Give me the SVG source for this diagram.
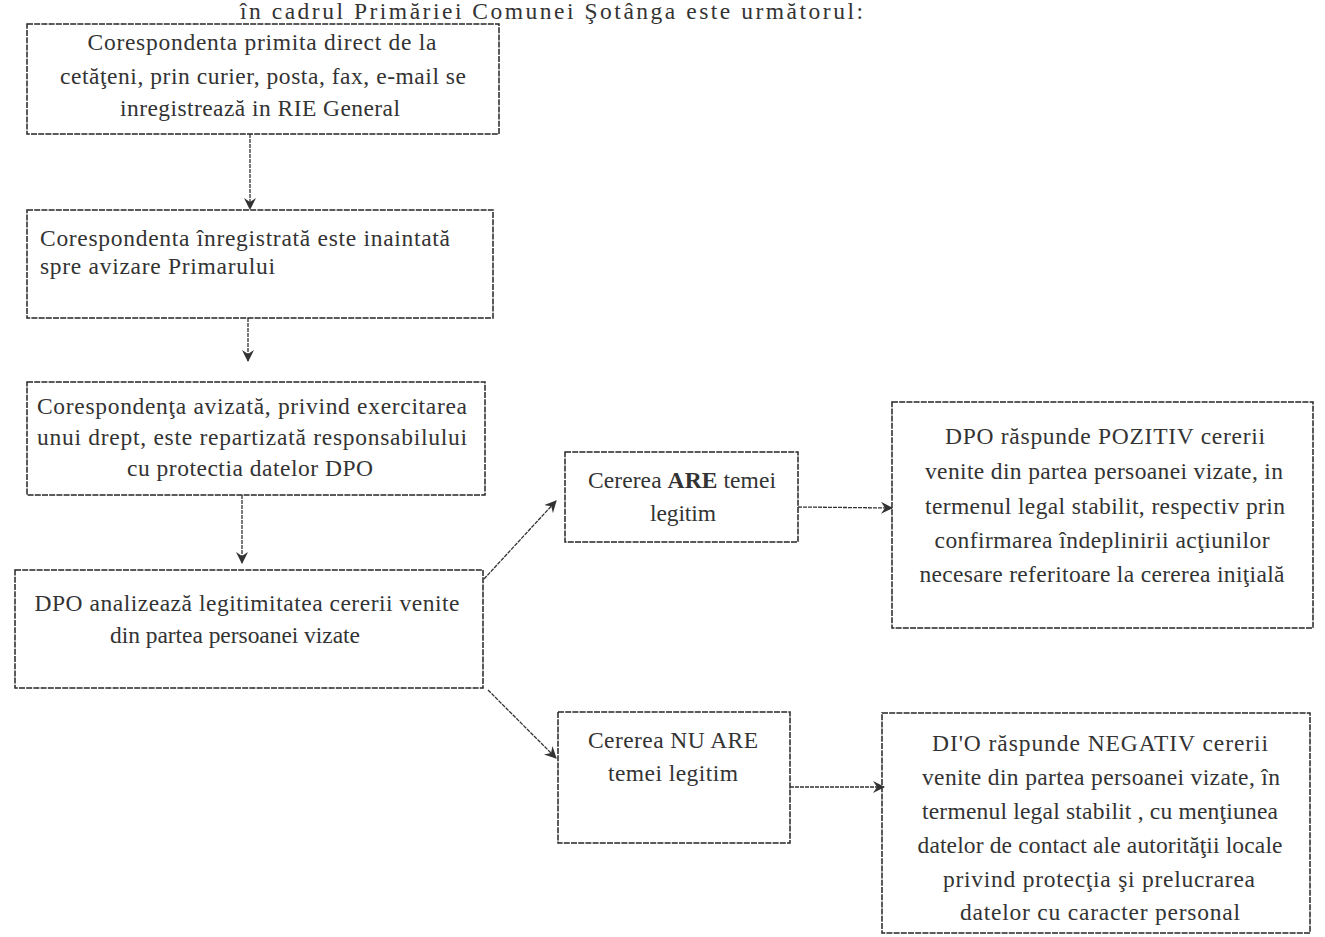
<svg xmlns="http://www.w3.org/2000/svg" width="1325" height="937" viewBox="0 0 1325 937">
<defs>
<style>
.box{fill:none;stroke:#262626;stroke-width:1.5;stroke-dasharray:6 1.2}
.t{font-family:"Liberation Serif","DejaVu Serif",serif;font-size:23.5px;fill:#333;text-anchor:middle}
.l{text-anchor:start}
.c{stroke:#333;stroke-width:1.3;stroke-dasharray:4 1;fill:none}
</style>
<marker id="ah" markerWidth="14" markerHeight="14" refX="11" refY="6" orient="auto" markerUnits="userSpaceOnUse">
<path d="M0,0 L12,6 L0,12 L4,6 Z" fill="#333"/>
</marker>
</defs>
<rect width="1325" height="937" fill="#ffffff"/>
<text class="t l" x="240" y="19" font-size="22" textLength="623">în cadrul Primăriei Comunei Şotânga este următorul:</text>
<g id="n1">
<rect class="box" x="27" y="24" width="472" height="110"/>
<text class="t" x="262" y="50" textLength="349">Corespondenta primita direct de la</text>
<text class="t" x="263" y="84" textLength="406">cetăţeni, prin curier, posta, fax, e-mail  se</text>
<text class="t" x="260" y="116" textLength="280">inregistrează in RIE General</text>
</g>
<g id="n2">
<rect class="box" x="27" y="210" width="466" height="108"/>
<text class="t l" x="40" y="246" textLength="410">Corespondenta înregistrată este inaintată</text>
<text class="t l" x="40" y="274" textLength="235">spre avizare Primarului</text>
</g>
<g id="n3">
<rect class="box" x="27" y="382" width="458" height="113"/>
<text class="t" x="252" y="414" textLength="430">Corespondenţa avizată, privind exercitarea</text>
<text class="t" x="252" y="445" textLength="430">unui drept, este repartizată responsabilului</text>
<text class="t" x="250" y="476" textLength="246">cu protectia datelor DPO</text>
</g>
<g id="n4">
<rect class="box" x="15" y="570" width="468" height="118"/>
<text class="t" x="247" y="611" textLength="425">DPO analizează legitimitatea cererii venite</text>
<text class="t" x="235" y="643" textLength="250">din partea persoanei vizate</text>
</g>
<g id="n5">
<rect class="box" x="565" y="452" width="233" height="90"/>
<text class="t" x="682" y="488" textLength="188"><tspan>Cererea </tspan><tspan font-weight="bold">ARE</tspan><tspan> temei</tspan></text>
<text class="t" x="683" y="521" textLength="66">legitim</text>
</g>
<g id="n6">
<rect class="box" x="558" y="712" width="232" height="131"/>
<text class="t" x="673" y="748" textLength="170">Cererea NU ARE</text>
<text class="t" x="673" y="781" textLength="130">temei legitim</text>
</g>
<g id="n7">
<rect class="box" x="892" y="402" width="421" height="226"/>
<text class="t" x="1105" y="444" textLength="320">DPO  răspunde  POZITIV cererii</text>
<text class="t" x="1104" y="479" textLength="358">venite din partea persoanei vizate, in</text>
<text class="t" x="1105" y="514" textLength="360">termenul legal stabilit, respectiv prin</text>
<text class="t" x="1102" y="548" textLength="335">confirmarea îndeplinirii acţiunilor</text>
<text class="t" x="1102" y="582" textLength="365">necesare referitoare la cererea iniţială</text>
</g>
<g id="n8">
<rect class="box" x="882" y="713" width="428" height="220"/>
<text class="t" x="1100" y="751" textLength="336">DI'O răspunde  NEGATIV cererii</text>
<text class="t" x="1101" y="785" textLength="358">venite din partea persoanei vizate, în</text>
<text class="t" x="1100" y="819" textLength="356">termenul legal stabilit , cu menţiunea</text>
<text class="t" x="1100" y="853" textLength="365">datelor de contact ale autorităţii locale</text>
<text class="t" x="1099" y="887" textLength="312">privind protecţia şi prelucrarea</text>
<text class="t" x="1100" y="920" textLength="280">datelor cu caracter personal</text>
</g>
<g id="connectors">
<line class="c" x1="250" y1="134" x2="250" y2="209" marker-end="url(#ah)"/>
<line class="c" x1="248" y1="318" x2="248" y2="361" marker-end="url(#ah)"/>
<line class="c" x1="242" y1="495" x2="242" y2="563" marker-end="url(#ah)"/>
<line class="c" x1="484" y1="579" x2="556" y2="501" marker-end="url(#ah)"/>
<line class="c" x1="488" y1="690" x2="556" y2="758" marker-end="url(#ah)"/>
<line class="c" x1="798" y1="507" x2="892" y2="508" marker-end="url(#ah)"/>
<line class="c" x1="790" y1="787" x2="884" y2="787" marker-end="url(#ah)"/>
</g>
</svg>
